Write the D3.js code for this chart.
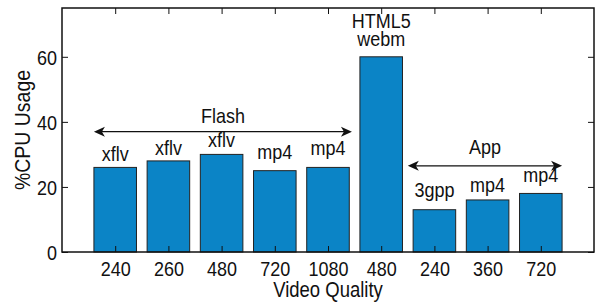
<!DOCTYPE html>
<html>
<head>
<meta charset="utf-8">
<script src="https://cdn.jsdelivr.net/npm/d3@7"></script>
<style>
  body { margin: 0; background: #fff; }
  svg text { font-family: "Liberation Sans", Arial, sans-serif; fill: #111; }
</style>
</head>
<body>
<svg id="chart"></svg>
<script>
// data
const qualities = ['240', '260', '480', '720', '1080', '480', '240', '360', '720'];
const cpuUsage = [26, 28, 30, 25, 26, 60, 13, 16, 18];
const formats = [['xflv'], ['xflv'], ['xflv'], ['mp4'], ['mp4'], ['HTML5', 'webm'], ['3gpp'], ['mp4'], ['mp4']];
const yTicks = [0, 20, 40, 60];
const groupNames = ['Flash', 'App'];

const width = 599;
const height = 303;
const margin = { top: 8, right: 5, bottom: 51, left: 62 };
const fs = 18;
const stretch = 'scale(1,1.15)'; // glyphs in the original are a bit taller than wide

const svg = d3.select('#chart').attr('width', width).attr('height', height);

const x = d3.scaleLinear().domain([0, 10]).range([margin.left, width - margin.right]);
const y = d3.scaleLinear().domain([0, 75]).range([height - margin.bottom, margin.top]);
const step = x(1) - x(0);
const barW = step * 0.8;

const put = (sel, px, py) => sel.attr('transform', `translate(${px},${py}) ${stretch}`);

// bars
svg.append('g')
  .selectAll('rect')
  .data(cpuUsage)
  .enter()
  .append('rect')
  .attr('x', (d, i) => x(i + 1) - barW / 2)
  .attr('y', (d) => y(d))
  .attr('width', barW)
  .attr('height', (d) => y(0) - y(d))
  .attr('fill', '#0b84c6')
  .attr('stroke', '#222')
  .attr('stroke-width', 1);

// format labels above bars (hand placed in the original, so the lift varies)
const lift = [6, 6, 7, 12, 12, 11, 13, 8, 11];
const lab = svg.append('g').attr('font-size', fs).attr('text-anchor', 'middle');
formats.forEach((lines, i) => {
  lines.forEach((t, k) => {
    put(lab.append('text').text(t), x(i + 1), y(cpuUsage[i]) - lift[i] - (lines.length - 1 - k) * 18);
  });
});

// axes
const xAxis = d3.axisBottom(x).tickValues(d3.range(1, 10)).tickFormat((d) => qualities[d - 1]).tickSizeInner(-6).tickSizeOuter(0);
const yAxis = d3.axisLeft(y).tickValues(yTicks).tickSizeInner(-6).tickSizeOuter(0);

const gx = svg.append('g').attr('transform', `translate(0,${y(0)})`).call(xAxis);
const gy = svg.append('g').attr('transform', `translate(${x(0)},0)`).call(yAxis);
// mirrored ticks on top and right
svg.append('g').attr('transform', `translate(0,${y(75)})`)
  .call(d3.axisTop(x).tickValues(d3.range(1, 10)).tickSizeInner(-6).tickSizeOuter(0).tickFormat(''));
svg.append('g').attr('transform', `translate(${x(10)},0)`)
  .call(d3.axisRight(y).tickValues(yTicks).tickSizeInner(-6).tickSizeOuter(0).tickFormat(''));

svg.selectAll('.tick line').attr('stroke', '#111');
svg.selectAll('.domain').remove();
svg.selectAll('.tick text').attr('font-size', fs).attr('font-family', '"Liberation Sans", Arial, sans-serif')
  .attr('fill', '#111').attr('x', 0).attr('y', 0).attr('dy', 0);
gx.selectAll('.tick text').attr('transform', `translate(0,24) ${stretch}`);
gy.selectAll('.tick text').attr('text-anchor', 'end').attr('transform', `translate(-5,7.5) ${stretch}`);

// frame
svg.append('rect')
  .attr('x', x(0)).attr('y', y(75))
  .attr('width', x(10) - x(0)).attr('height', y(0) - y(75))
  .attr('fill', 'none').attr('stroke', '#111').attr('stroke-width', 1.5);

// axis titles
put(svg.append('text').attr('text-anchor', 'middle').attr('font-size', fs + 0.5).text('Video Quality'),
  (x(0) + x(10)) / 2, 297);

svg.append('text')
  .attr('transform', `translate(30,${(y(0) + y(75)) / 2}) rotate(-90) scale(1,1.1)`)
  .attr('text-anchor', 'middle')
  .attr('font-size', fs + 1.5)
  .text('%CPU Usage');

// group arrows: span in bar units, arrow level in % units
const spans = [[0.6, 5.45, 37, 9], [6.5, 9.4, 26.5, 12]];
const head = (px, py, dir) => {
  const L = 11, W = 5, n = 3;
  return `M${px},${py} L${px - dir * L},${py - W} L${px - dir * (L - n)},${py} L${px - dir * L},${py + W} Z`;
};
const ga = svg.append('g');
groupNames.forEach((name, i) => {
  const [a, b, lvl, gap] = spans[i];
  const x1 = x(a), x2 = x(b), yy = y(lvl);
  ga.append('line').attr('x1', x1 + 3).attr('x2', x2 - 3).attr('y1', yy).attr('y2', yy)
    .attr('stroke', '#111').attr('stroke-width', 1.3);
  ga.append('path').attr('d', head(x1, yy, -1)).attr('fill', '#111');
  ga.append('path').attr('d', head(x2, yy, 1)).attr('fill', '#111');
  put(ga.append('text').attr('text-anchor', 'middle').attr('font-size', fs).text(name), (x1 + x2) / 2, yy - gap);
});
</script>
</body>
</html>
